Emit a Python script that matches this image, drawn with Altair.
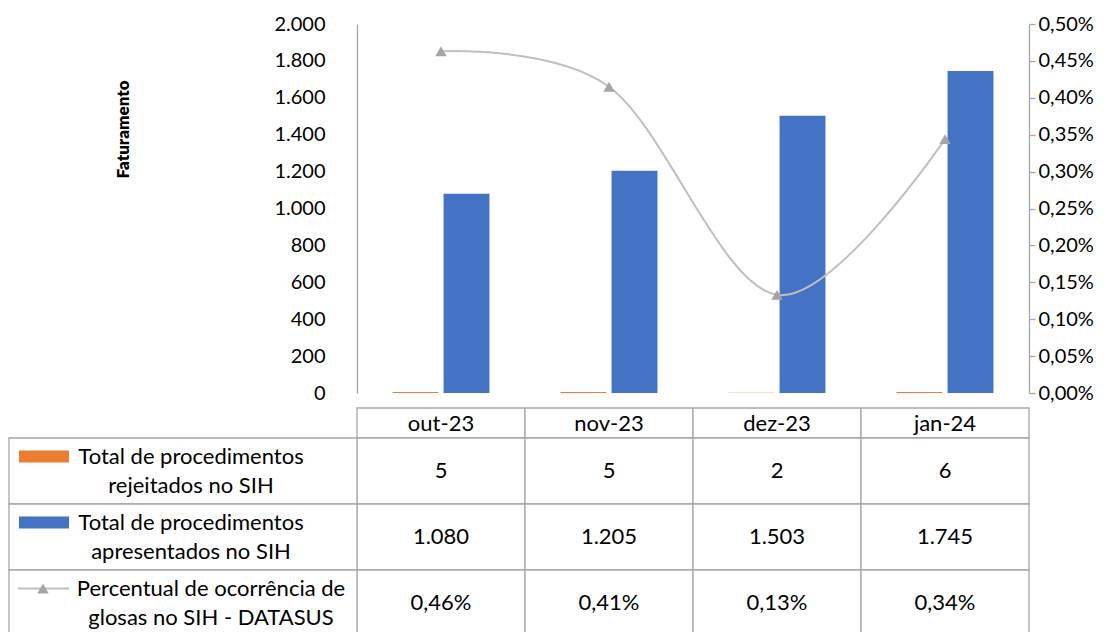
import altair as alt
import pandas as pd

# ---------------- data ----------------
meses = ["out-23", "nov-23", "dez-23", "jan-24"]
rejeitados = [5, 5, 2, 6]
apresentados = [1080, 1205, 1503, 1745]
percentual = [0.00463, 0.00415, 0.00133, 0.00344]

serie_rej = "Total de procedimentos rejeitados no SIH"
serie_apr = "Total de procedimentos apresentados no SIH"
serie_pct = "Percentual de ocorrência de glosas no SIH - DATASUS"
rotulos = [
    "Total de procedimentos\nrejeitados no SIH",
    "Total de procedimentos\napresentados no SIH",
    "Percentual de ocorrência de\nglosas no SIH - DATASUS",
]

# ---------------- style / layout ----------------
COR_LAR = "#ED7D31"
COR_AZUL = "#4472C4"
COR_LINHA = "#BFBFBF"
COR_MARC = "#A5A5A5"
COR_GRADE = "#A6A6A6"
FONT = "Lato"
FS_AXIS = 20
FS_TAB = 22

W, H = 672, 369
HEAD_TOP, HEAD_BOT = 384, 414
ROW_H = 66
LABEL_LEFT = -348
LINE_H = 29
label_cx = [-166, -166, -146]

row_tops = [HEAD_BOT + i * ROW_H for i in range(3)]

# ---------------- chart part ----------------
bars_df = pd.DataFrame({
    "mes": meses * 2,
    "serie": [serie_rej] * 4 + [serie_apr] * 4,
    "valor": rejeitados + apresentados,
})
line_df = pd.DataFrame({"mes": meses, "pct": percentual})

color_scale = alt.Scale(domain=[serie_rej, serie_apr], range=[COR_LAR, COR_AZUL])

bars = alt.Chart(bars_df).mark_bar().encode(
    x=alt.X("mes:N", sort=meses, axis=None,
            scale=alt.Scale(paddingInner=0.423, paddingOuter=0.2115)),
    xOffset=alt.XOffset("serie:N", sort=[serie_rej, serie_apr],
                        scale=alt.Scale(paddingInner=0.1)),
    y=alt.Y("valor:Q", scale=alt.Scale(domain=[0, 2000], nice=False),
            axis=alt.Axis(values=list(range(0, 2001, 200)),
                          labelExpr="replace(format(datum.value, ',.0f'), ',', '.')",
                          ticks=False, tickSize=0, labelPadding=32,
                          domainColor=COR_GRADE, domainWidth=1.3, grid=False,
                          title="Faturamento", titleX=-234, titleY=105,
                          titleFontWeight=800, titleFontSize=17,
                          titleAngle=-90, titleAlign="center", titleBaseline="middle")),
    color=alt.Color("serie:N", scale=color_scale, legend=None),
)

line = alt.Chart(line_df).mark_line(
    interpolate="cardinal", color=COR_LINHA, strokeWidth=2
).encode(
    x=alt.X("mes:N", sort=meses, axis=None),
    y=alt.Y("pct:Q", scale=alt.Scale(domain=[0, 0.005], nice=False),
            axis=alt.Axis(orient="right", tickCount=10,
                          labelExpr="replace(format(datum.value, '.2%'), '.', ',')",
                          tickSize=6, labelPadding=3, grid=False, title=None,
                          domainColor=COR_GRADE, tickColor=COR_GRADE,
                          domainWidth=1.3, tickWidth=1.3)),
)
points = line.mark_point(shape="triangle-up", filled=True, size=130,
                         color=COR_MARC, opacity=1)

top = alt.layer(bars, alt.layer(line, points)).resolve_scale(y="independent")

# ---------------- data table ----------------
table_x = alt.X("mes:N", sort=meses, axis=None,
                scale=alt.Scale(paddingInner=0, paddingOuter=0))

tops = [HEAD_TOP] + row_tops
bots = [HEAD_BOT] + [t + ROW_H for t in row_tops]
cells_df = pd.DataFrame([
    {"mes": m, "top": t, "bot": b} for t, b in zip(tops, bots) for m in meses
])
cells = alt.Chart(cells_df).mark_rect(
    fill="white", stroke=COR_GRADE, strokeWidth=1.3
).encode(
    x=table_x,
    y=alt.Y("top:Q", scale=None, axis=None),
    y2="bot:Q",
)

label_cells_df = pd.DataFrame({"top": row_tops, "bot": [t + ROW_H for t in row_tops]})
label_cells = alt.Chart(label_cells_df).mark_rect(
    fill="white", stroke=COR_GRADE, strokeWidth=1.3
).encode(
    x=alt.value(LABEL_LEFT), x2=alt.value(0),
    y=alt.Y("top:Q", scale=None, axis=None), y2="bot:Q",
)

head_df = pd.DataFrame({"mes": meses, "cy": [(HEAD_TOP + HEAD_BOT) / 2 + 1] * 4})
head_text = alt.Chart(head_df).mark_text(
    font=FONT, fontSize=FS_TAB, color="black", baseline="middle"
).encode(x=table_x, y=alt.Y("cy:Q", scale=None, axis=None), text="mes:N")

val_rows = []
for i, m in enumerate(meses):
    val_rows.append({"mes": m, "cy": row_tops[0] + ROW_H / 2,
                     "txt": f"{rejeitados[i]:,}".replace(",", ".")})
    val_rows.append({"mes": m, "cy": row_tops[1] + ROW_H / 2,
                     "txt": f"{apresentados[i]:,}".replace(",", ".")})
    val_rows.append({"mes": m, "cy": row_tops[2] + ROW_H / 2,
                     "txt": f"{percentual[i] * 100:.2f}%".replace(".", ",")})
val_df = pd.DataFrame(val_rows)
val_text = alt.Chart(val_df).mark_text(
    font=FONT, fontSize=FS_TAB, color="black", baseline="middle"
).encode(x=table_x, y=alt.Y("cy:Q", scale=None, axis=None), text="txt:N")

lab_df = pd.DataFrame({
    "txt": rotulos,
    "cx": label_cx,
    "cy": [t + ROW_H / 2 - LINE_H / 2 for t in row_tops],
})
lab_text = alt.Chart(lab_df).mark_text(
    font=FONT, fontSize=FS_TAB, color="black", baseline="middle", align="center",
    lineBreak="\n", lineHeight=LINE_H
).encode(
    x=alt.X("cx:Q", scale=None, axis=None),
    y=alt.Y("cy:Q", scale=None, axis=None),
    text="txt:N",
)

sw_df = pd.DataFrame({
    "serie": [serie_rej, serie_apr],
    "top": [t + ROW_H / 2 - LINE_H / 2 - 6 for t in row_tops[:2]],
    "bot": [t + ROW_H / 2 - LINE_H / 2 + 6 for t in row_tops[:2]],
})
swatches = alt.Chart(sw_df).mark_rect().encode(
    x=alt.value(-338), x2=alt.value(-288),
    y=alt.Y("top:Q", scale=None, axis=None), y2="bot:Q",
    color=alt.Color("serie:N", scale=color_scale, legend=None),
)

leg_y = row_tops[2] + ROW_H / 2 - LINE_H / 2
leg_df = pd.DataFrame({"serie": [serie_pct]})
leg_line = alt.Chart(leg_df).mark_rule(color=COR_LINHA, strokeWidth=2).encode(
    x=alt.value(-339), x2=alt.value(-288), y=alt.value(leg_y)
)
leg_pt = alt.Chart(leg_df).mark_point(
    shape="triangle-up", filled=True, size=130, color=COR_MARC, opacity=1
).encode(x=alt.value(-314), y=alt.value(leg_y))

chart = alt.layer(
    top, cells, label_cells, head_text, val_text, lab_text, swatches, leg_line, leg_pt
).resolve_scale(
    x="independent", y="independent"
).properties(
    width=W, height=H,
    padding={"left": 0, "top": 6, "right": 5, "bottom": 0},
).configure_view(
    stroke=None
).configure_axis(
    labelFont=FONT, labelFontSize=FS_AXIS, labelColor="black",
    titleFont=FONT, titleColor="black",
)

chart.save("out.html", embed_options={"renderer": "svg", "actions": False})
